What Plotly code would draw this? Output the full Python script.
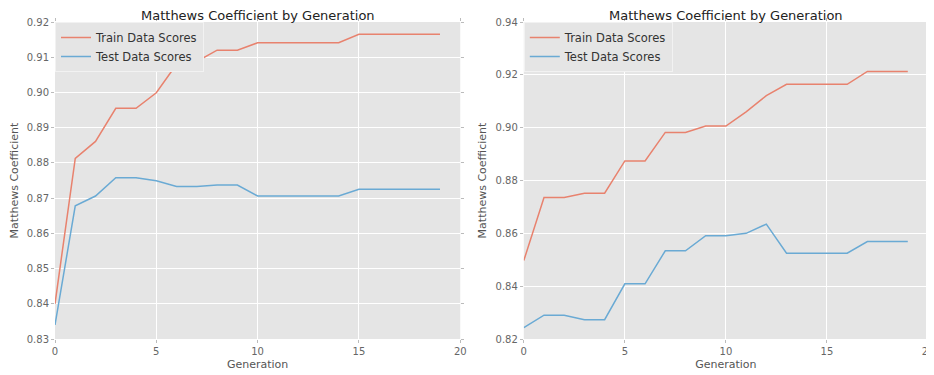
import plotly.graph_objects as go
from plotly.subplots import make_subplots

generations = list(range(20))

left_train = [0.840, 0.8813, 0.8861, 0.8955, 0.8955, 0.8999, 0.9080, 0.9088, 0.9120, 0.9120,
              0.9141, 0.9141, 0.9141, 0.9141, 0.9141, 0.9165, 0.9165, 0.9165, 0.9165, 0.9165]
left_test = [0.8340, 0.8678, 0.8706, 0.8758, 0.8758, 0.8749, 0.8733, 0.8733, 0.8737, 0.8737,
             0.8706, 0.8706, 0.8706, 0.8706, 0.8706, 0.8725, 0.8725, 0.8725, 0.8725, 0.8725]

right_train = [0.8497, 0.8736, 0.8736, 0.8752, 0.8752, 0.8874, 0.8874, 0.8982, 0.8982, 0.9006,
               0.9006, 0.9060, 0.9121, 0.9164, 0.9164, 0.9164, 0.9164, 0.9213, 0.9213, 0.9213]
right_test = [0.8243, 0.8290, 0.8290, 0.8273, 0.8273, 0.8409, 0.8409, 0.8534, 0.8534, 0.8591,
              0.8591, 0.8600, 0.8635, 0.8525, 0.8525, 0.8525, 0.8525, 0.8569, 0.8569, 0.8569]

left_yticks = [0.83, 0.84, 0.85, 0.86, 0.87, 0.88, 0.89, 0.90, 0.91, 0.92]
right_yticks = [0.82, 0.84, 0.86, 0.88, 0.90, 0.92, 0.94]
xticks = [0, 5, 10, 15, 20]

title = "Matthews Coefficient by Generation"
RED = "#E8826E"
BLUE = "#6AAAD4"
FONT = "DejaVu Sans"

fig = make_subplots(rows=1, cols=2, horizontal_spacing=0.073)

fig.add_trace(go.Scatter(x=generations, y=left_train, mode="lines", name="Train Data Scores",
                         line=dict(color=RED, width=1.5), legend="legend"), row=1, col=1)
fig.add_trace(go.Scatter(x=generations, y=left_test, mode="lines", name="Test Data Scores",
                         line=dict(color=BLUE, width=1.5), legend="legend"), row=1, col=1)
fig.add_trace(go.Scatter(x=generations, y=right_train, mode="lines", name="Train Data Scores",
                         line=dict(color=RED, width=1.5), legend="legend2"), row=1, col=2)
fig.add_trace(go.Scatter(x=generations, y=right_test, mode="lines", name="Test Data Scores",
                         line=dict(color=BLUE, width=1.5), legend="legend2"), row=1, col=2)

axis_common = dict(
    showgrid=True, gridcolor="white", gridwidth=1, zeroline=False,
    ticks="outside", ticklen=3, tickcolor="#BBBBBB", mirror="ticks", showline=False,
    tickfont=dict(family=FONT, size=10, color="#666666"),
)

fig.update_xaxes(range=[0, 20], tickvals=xticks, ticktext=[str(v) for v in xticks],
                 ticklabeloverflow="allow",
                 title=dict(text="Generation", font=dict(family=FONT, size=11, color="#555555"), standoff=4),
                 **axis_common)
fig.update_yaxes(range=[0.83, 0.92], tickvals=left_yticks, ticktext=[f"{v:.2f}" for v in left_yticks],
                 title=dict(text="Matthews Coefficient", font=dict(family=FONT, size=11, color="#555555"), standoff=6),
                 row=1, col=1, **axis_common)
fig.update_yaxes(range=[0.82, 0.94], tickvals=right_yticks, ticktext=[f"{v:.2f}" for v in right_yticks],
                 title=dict(text="Matthews Coefficient", font=dict(family=FONT, size=11, color="#555555"), standoff=6),
                 row=1, col=2, **axis_common)

fig.update_xaxes(domain=[0.0, 0.4642], row=1, col=1)
fig.update_xaxes(domain=[0.537, 1.0], row=1, col=2)

legend_common = dict(
    bgcolor="#E5E5E5", bordercolor="#F2F2F2", borderwidth=1,
    font=dict(family=FONT, size=11.5, color="#333333"),
    xanchor="left", yanchor="top", tracegroupgap=0, itemwidth=30,
)
# The page body has an 8px margin, so the figure is sized/offset to compensate.
fig.update_layout(
    width=926, height=367,
    margin=dict(l=47, r=0, t=14, b=36),
    plot_bgcolor="#E5E5E5", paper_bgcolor="white",
    legend=dict(x=0.0, y=1.0, **legend_common),
    legend2=dict(x=0.537, y=1.0, **legend_common),
    annotations=[
        dict(text=title, x=0.2321, y=1.0, xref="paper", yref="paper", xanchor="center", yanchor="bottom",
             showarrow=False, yshift=-3, font=dict(family=FONT, size=13, color="#222222")),
        dict(text=title, x=0.7685, y=1.0, xref="paper", yref="paper", xanchor="center", yanchor="bottom",
             showarrow=False, yshift=-3, font=dict(family=FONT, size=13, color="#222222")),
    ],
)

fig.write_html("out.html")
